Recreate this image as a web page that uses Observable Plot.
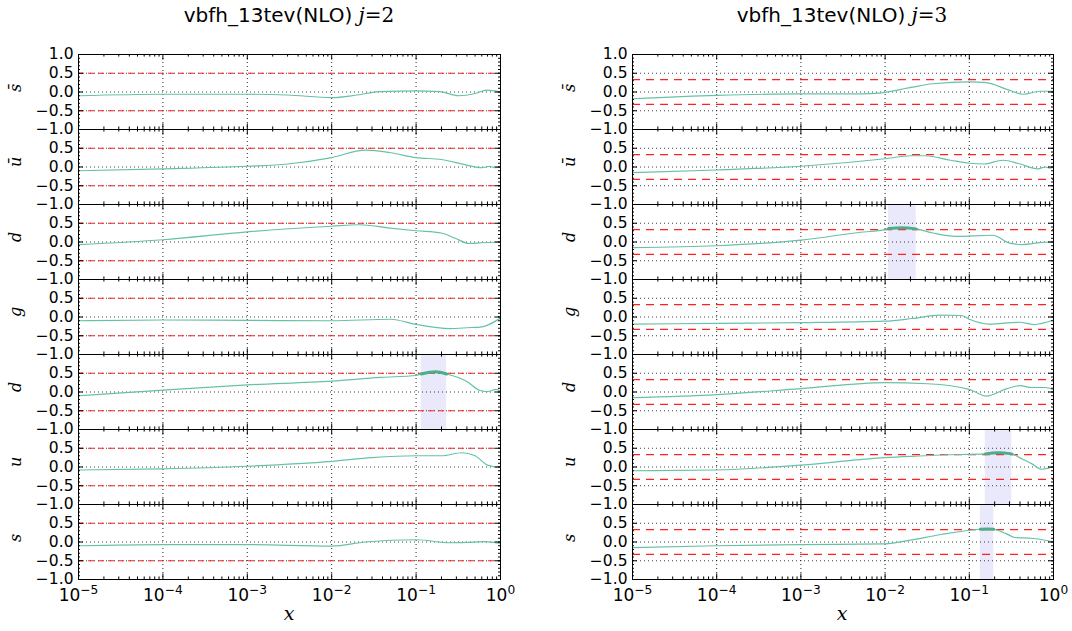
<!DOCTYPE html>
<html><head><meta charset="utf-8">
<script src="https://cdn.jsdelivr.net/npm/d3@7"></script>
<script src="https://cdn.jsdelivr.net/npm/@observablehq/plot@0.6"></script>
<style>
body{margin:0;background:#fff;}
#wrap{position:relative;width:1072px;height:631px;overflow:hidden;font-family:"DejaVu Sans",sans-serif;color:#000;}
.title{position:absolute;top:3px;font-size:20px;white-space:nowrap;transform:translateX(-50%);}
.mi{font-family:"DejaVu Serif",serif;font-style:italic;}
.mr{font-family:"DejaVu Serif",serif;}
.xlab{position:absolute;top:602px;font-family:"DejaVu Serif",serif;font-style:italic;font-size:19px;transform:translateX(-50%);}
.col{position:absolute;top:42px;}
</style></head>
<body><div id="wrap">
<div class="title" style="left:289px">vbfh_13tev(NLO) <span class="mi">j</span><span class="mr">=2</span></div>
<div class="title" style="left:842px">vbfh_13tev(NLO) <span class="mi">j</span><span class="mr">=3</span></div>
<div class="xlab" style="left:289px">x</div>
<div class="xlab" style="left:842px">x</div>
</div>
<script>
// ---- categories / labels ----
const flavorKeys = ["sbar","ubar","dbar","g","d","u","s"];
const flavorLabels = ["s\u0304","u\u0304","d","g","d","u","s"];
const decades = [1e-5,1e-4,1e-3,1e-2,1e-1,1];
const yTicks = [-1,-0.5,0,0.5,1];
const yTicksLower = [-1,-0.5,0,0.5];   // the "1.0" of lower panels coincides with the "−1.0" above
const limitsJ2 = [0.5,-0.5];
const limitsJ3 = [0.33,-0.33];

// ---- series, j=2 : [x, value] ----
const j2_sbar = [[1e-5,-0.1],[1e-4,-0.06],[1e-3,-0.06],[3e-3,-0.08],[1e-2,-0.15],[2e-2,-0.08],[3.7e-2,0.01],[0.1,0.03],[0.19,0.01],[0.32,-0.1],[0.5,-0.04],[0.69,0.05],[1,0.0]];
const j2_ubar = [[1e-5,-0.1],[1e-4,-0.05],[1e-3,0.02],[3e-3,0.08],[1e-2,0.25],[2.5e-2,0.45],[5e-2,0.38],[0.1,0.25],[0.2,0.2],[0.4,0.05],[0.6,-0.02],[0.75,0.02],[0.85,-0.02],[1,0]];
const j2_dbar = [[1e-5,-0.07],[1e-4,0.06],[1e-3,0.27],[1e-2,0.42],[2.1e-2,0.46],[4.9e-2,0.37],[0.1,0.30],[0.2,0.24],[0.29,0.1],[0.43,-0.04],[0.6,-0.02],[1,0]];
const j2_g = [[1e-5,-0.1],[1e-4,-0.08],[1e-3,-0.09],[1e-2,-0.1],[5e-2,-0.06],[0.1,-0.2],[0.25,-0.31],[0.45,-0.28],[0.58,-0.27],[1,-0.03]];
const j2_d = [[1e-5,-0.1],[1e-4,0.05],[1e-3,0.19],[1e-2,0.29],[3.8e-2,0.39],[0.1,0.44],[0.115,0.48],[0.17,0.54],[0.23,0.48],[0.4,0.28],[0.57,0.04],[0.7,0.01],[0.89,0.07],[1,0.02]];
const j2_u = [[1e-5,-0.08],[1e-4,-0.05],[1e-3,0.02],[1e-2,0.15],[3e-2,0.25],[0.1,0.3],[0.2,0.3],[0.35,0.38],[0.5,0.3],[0.7,0.05],[0.85,0.01],[1,0]];
const j2_s = [[1e-5,-0.1],[1e-4,-0.07],[1e-3,-0.07],[1e-2,-0.11],[2.5e-2,0.0],[0.1,0.06],[0.25,-0.02],[0.4,-0.01],[0.63,0.01],[1,-0.04]];

// ---- series, j=3 : [x, value] ----
const j3_sbar = [[1e-5,-0.18],[1e-4,-0.09],[1e-3,-0.05],[5.4e-3,-0.05],[8.5e-3,-0.03],[2.1e-2,0.13],[3.7e-2,0.22],[0.1,0.27],[0.16,0.25],[0.28,0.07],[0.44,-0.06],[0.69,0.02],[1,0.02]];
const j3_ubar = [[1e-5,-0.15],[1e-4,-0.08],[1e-3,0.02],[1e-2,0.22],[2e-2,0.3],[3e-2,0.3],[6e-2,0.18],[0.1,0.1],[0.15,0.08],[0.25,0.18],[0.4,0.08],[0.65,-0.05],[0.8,0.0],[0.9,-0.03],[1,0]];
const j3_dbar = [[1e-5,-0.15],[1e-4,-0.1],[1e-3,0.05],[5.1e-3,0.26],[1e-2,0.33],[1.1e-2,0.36],[1.6e-2,0.38],[2.34e-2,0.35],[3.7e-2,0.24],[6.9e-2,0.15],[0.19,0.18],[0.3,-0.03],[0.43,-0.07],[0.74,-0.01],[1,0]];
const j3_g = [[1e-5,-0.19],[1e-4,-0.17],[1e-3,-0.15],[1e-2,-0.11],[2.1e-2,-0.04],[4.5e-2,0.05],[8e-2,0.04],[0.1,-0.06],[0.17,-0.19],[0.4,-0.14],[0.58,-0.2],[1,-0.08]];
const j3_d = [[1e-5,-0.15],[1e-4,-0.07],[1e-3,0.09],[1e-2,0.25],[3.2e-2,0.22],[0.1,0.07],[0.16,-0.11],[0.28,0.09],[0.4,0.17],[0.55,0.12],[0.8,0.12],[1,0.06]];
const j3_u = [[1e-5,-0.1],[1e-4,-0.08],[1e-3,0.05],[1e-2,0.25],[3e-2,0.3],[4.6e-2,0.32],[0.155,0.35],[0.22,0.38],[0.32,0.35],[0.42,0.22],[0.55,0.09],[0.72,-0.06],[0.87,-0.03],[1,0.02]];
const j3_s = [[1e-5,-0.15],[1e-4,-0.1],[1e-3,-0.07],[1e-2,-0.05],[2e-2,0.05],[4.6e-2,0.2],[0.135,0.34],[0.165,0.35],[0.195,0.34],[0.27,0.23],[0.35,0.12],[0.55,0.1],[1,0]];

// ---- shaded x-regions ----
const bandsJ2 = [{flavor:"d", x1:0.115, x2:0.23}];
const bandsJ3 = [{flavor:"dbar", x1:0.011, x2:0.0234},{flavor:"u", x1:0.155, x2:0.32},{flavor:"s", x1:0.135, x2:0.195}];

const seriesJ2 = {sbar:j2_sbar, ubar:j2_ubar, dbar:j2_dbar, g:j2_g, d:j2_d, u:j2_u, s:j2_s};
const seriesJ3 = {sbar:j3_sbar, ubar:j3_ubar, dbar:j3_dbar, g:j3_g, d:j3_d, u:j3_u, s:j3_s};

const minorX = [];
for (let e = -5; e < 0; e++) for (let m = 2; m <= 9; m++) minorX.push(m * Math.pow(10, e));
const minorY = d3.range(-10, 11).map(i => i / 10);

const ML = 78, MT = 10, MB = 51, MR = 16, PANELS_H = 528;
const PH = PANELS_H / 7;
const fmt = d3.format(".1f");

function makeCol(series, limits, bands, W, dash, left) {
  const data = flavorKeys.flatMap(k => series[k].map(([x, y]) => ({flavor: k, x, y})));
  const inBand = data.filter(r => bands.some(b => b.flavor === r.flavor && r.x >= b.x1 * 0.999 && r.x <= b.x2 * 1.001));
  const lab = Object.fromEntries(flavorKeys.map((k, i) => [k, flavorLabels[i]]));
  const svg = Plot.plot({
    width: ML + W + MR, height: MT + PANELS_H + MB,
    marginLeft: ML, marginRight: MR, marginTop: MT, marginBottom: MB,
    style: {fontFamily: "DejaVu Sans, sans-serif", color: "#000", background: "transparent", overflow: "visible"},
    x: {type: "log", domain: [1e-5, 1]},
    y: {domain: [-1, 1]},
    fy: {domain: flavorKeys, padding: 0, axis: null},
    marks: [
      Plot.rect(bands, {x1: "x1", x2: "x2", fy: "flavor", fill: "#e9e9fb"}),
      Plot.gridX(decades, {stroke: "#000", strokeOpacity: 0.85, strokeDasharray: "1,3"}),
      Plot.gridY([-0.5, 0, 0.5], {stroke: "#000", strokeOpacity: 0.75, strokeDasharray: "1,3"}),
      Plot.ruleY(limits, {stroke: "#ff2020", strokeWidth: 1.1, strokeDasharray: dash}),
      Plot.line(data, {x: "x", y: "y", fy: "flavor", stroke: "#66c2a5", strokeWidth: 1.2, curve: "monotone-x"}),
      Plot.line(inBand, {x: "x", y: "y", fy: "flavor", stroke: "#4aae88", strokeWidth: 3, curve: "monotone-x"}),
      Plot.tickX(minorX, {stroke: "#000", insetTop: PH - 3}),
      Plot.tickX(minorX, {stroke: "#000", insetBottom: PH - 3}),
      Plot.tickX(decades, {stroke: "#000", insetTop: PH - 6}),
      Plot.tickX(decades, {stroke: "#000", insetBottom: PH - 6}),
      Plot.tickY(minorY, {stroke: "#000", insetRight: W - 2}),
      Plot.tickY(minorY, {stroke: "#000", insetLeft: W - 2}),
      Plot.tickY(yTicks, {stroke: "#000", insetRight: W - 5}),
      Plot.tickY(yTicks, {stroke: "#000", insetLeft: W - 5}),
      Plot.frame({stroke: "#000", strokeWidth: 1}),
      Plot.axisY({ticks: yTicksLower, tickFormat: fmt, tickSize: 0, tickPadding: 5, fontSize: 15.5, label: null}),
      Plot.text([flavorKeys[0]], {fy: d => d, y: () => yTicks[yTicks.length - 1], text: () => fmt(yTicks[yTicks.length - 1]),
        frameAnchor: "left", dx: -5, textAnchor: "end", fontSize: 15.5, fill: "#000"}),
      Plot.axisX({ticks: decades, tickFormat: d => "10|" + String(Math.round(Math.log10(d))).replace("-", "\u2212"), tickSize: 0, tickPadding: 9, fontSize: 17, label: null}),
      Plot.text(flavorKeys, {fy: d => d, text: d => lab[d], frameAnchor: "left", dx: -63, rotate: -90,
        fontFamily: "DejaVu Serif, serif", fontStyle: "italic", fontSize: 16, fill: "#000"})
    ]
  });
  for (const t of svg.querySelectorAll('[aria-label="x-axis tick label"] text')) {
    const parts = t.textContent.split("|");
    if (parts.length !== 2) continue;
    t.textContent = parts[0];
    const ts = document.createElementNS("http://www.w3.org/2000/svg", "tspan");
    ts.setAttribute("dy", "-0.55em");
    ts.setAttribute("font-size", "0.72em");
    ts.textContent = parts[1];
    t.appendChild(ts);
  }
  const div = document.createElement("div");
  div.className = "col";
  div.style.left = left + "px";
  div.appendChild(svg);
  document.getElementById("wrap").appendChild(div);
}

makeCol(seriesJ2, limitsJ2, bandsJ2, 422, "6,4", 0);
makeCol(seriesJ3, limitsJ3, bandsJ3, 421, "8,6", 632 - ML);
</script>
</body></html>
